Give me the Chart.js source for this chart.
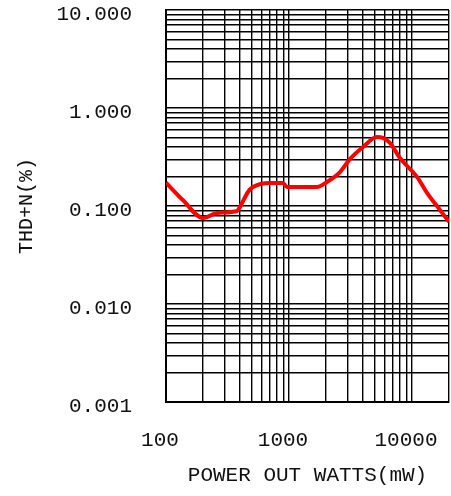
<!DOCTYPE html>
<html>
<head>
<meta charset="utf-8">
<script src="https://cdn.jsdelivr.net/npm/chart.js@4"></script>
<style>
  body { margin: 0; background: #fff; }
</style>
</head>
<body>
<canvas id="thd" width="451" height="496"></canvas>
<script>
const powerOut = [100, 137, 200, 260, 378, 400, 464, 509, 700, 893, 963, 1690, 2040, 2600, 3135, 4000, 5190, 5810, 6620, 7980, 10990, 13250, 16900, 20000];
const thdN = [0.173, 0.115, 0.0755, 0.085, 0.089, 0.098, 0.139, 0.156, 0.172, 0.172, 0.156, 0.156, 0.176, 0.222, 0.302, 0.40, 0.506, 0.495, 0.44, 0.309, 0.198, 0.136, 0.091, 0.069];

const xTickLabels = ['100', '1000', '10000'];
const yTickLabels = ['0.001', '0.010', '0.100', '1.000', '10.000'];

// 1..9 grid lines per decade
function logGrid(min, max) {
    const out = [];
    for (let d = min; d < max * 0.999; d *= 10) {
        for (let k = 1; k <= 9; k++) {
            const v = Number((k * d).toPrecision(6));
            if (v <= max) out.push(v);
        }
    }
    if (out[out.length - 1] !== max) out.push(max);
    return out;
}

const fnt = { family: 'Liberation Mono', size: 21 };

new Chart(document.getElementById('thd'), {
    type: 'line',
    data: {
        datasets: [{
            data: powerOut.map((p, i) => ({ x: p, y: thdN[i] })),
            borderColor: '#ff0000',
            borderWidth: 4,
            pointRadius: 0,
            cubicInterpolationMode: 'monotone',
            fill: false
        }]
    },
    options: {
        responsive: false,
        animation: false,
        layout: { padding: { left: 0, right: 2, top: 10, bottom: 0 } },
        plugins: { legend: { display: false }, tooltip: { enabled: false } },
        scales: {
            x: {
                type: 'logarithmic',
                min: 100,
                max: 20000,
                afterBuildTicks: (axis) => { axis.ticks = logGrid(100, 20000).map(v => ({ value: v })); },
                afterFit: (axis) => { axis.height = 94; axis.paddingLeft = 0; axis.paddingRight = 0; },
                grid: { color: '#000', lineWidth: 1.4, drawTicks: false },
                border: { color: '#000', width: 2 },
                ticks: {
                    autoSkip: false,
                    maxRotation: 0,
                    padding: 26,
                    labelOffset: -6,
                    color: '#111',
                    font: fnt,
                    callback: (v) => xTickLabels.includes(String(v)) ? String(v) : ''
                },
                title: { display: true, text: 'POWER OUT WATTS(mW)', color: '#111', font: { family: 'Liberation Mono', size: 21 }, padding: { top: 0, bottom: 8 } }
            },
            y: {
                type: 'logarithmic',
                min: 0.001,
                max: 10,
                afterBuildTicks: (axis) => { axis.ticks = logGrid(0.001, 10).map(v => ({ value: v })); },
                afterFit: (axis) => { axis.width = 166; axis.paddingTop = 0; axis.paddingBottom = 0; },
                grid: { color: '#000', lineWidth: 1.4, drawTicks: false },
                border: { color: '#000', width: 2 },
                ticks: {
                    autoSkip: false,
                    padding: 34,
                    labelOffset: 4,
                    color: '#111',
                    font: fnt,
                    callback: (v) => {
                        const s = v.toFixed(3);
                        return yTickLabels.includes(s) && Math.abs(Math.log10(v) - Math.round(Math.log10(v))) < 1e-9 ? s : '';
                    }
                },
                title: { display: true, text: 'THD+N(%)', color: '#111', font: { family: 'Liberation Mono', size: 20 }, padding: { top: 15, bottom: 0 } }
            }
        }
    }
});
</script>
</body>
</html>
